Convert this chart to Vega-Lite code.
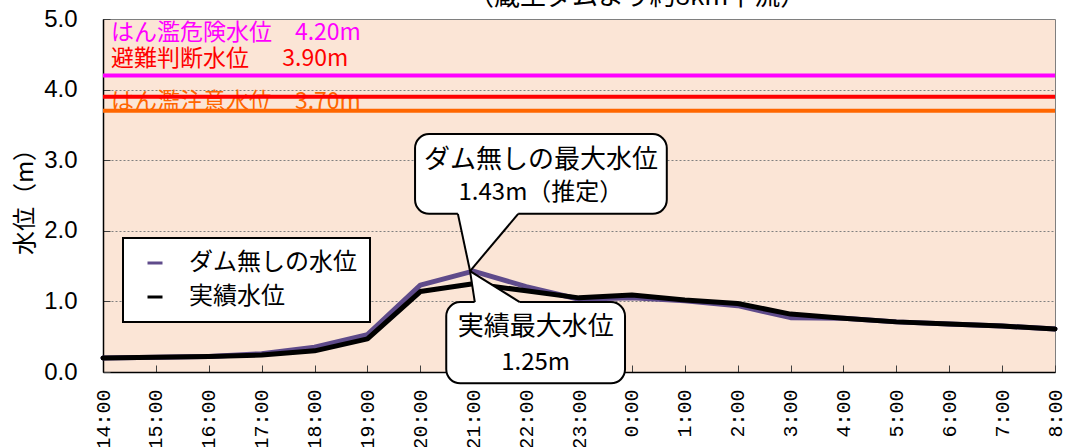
{
  "$schema": "https://vega.github.io/schema/vega-lite/v6.json",
  "width": 952,
  "height": 353,
  "autosize": {"type": "none"},
  "padding": {"left": 103, "top": 19, "right": 10, "bottom": 75},
  "background": "white",
  "config": {
    "view": {"fill": "#FBE5D6", "stroke": "#7f7f7f", "strokeWidth": 1},
    "legend": {"strokeWidth": 2},
    "axisY": {
      "labelFont": "Liberation Sans", "labelFontSize": 24, "labelColor": "black",
      "tickSize": -7, "tickColor": "#404040", "labelPadding": 33,
      "domainColor": "black", "domainWidth": 1.5,
      "grid": true, "gridColor": "#808080", "gridDash": [2, 2], "gridWidth": 1,
      "titleFont": "Noto Sans CJK JP", "titleFontSize": 24, "titleFontWeight": "normal", "titleColor": "black", "titlePadding": 6
    },
    "axisX": {
      "labelAngle": 270, "labelFont": "Liberation Mono", "labelFontSize": 20, "labelColor": "black",
      "labelPadding": 24, "tickSize": -7, "tickColor": "#404040",
      "domainColor": "black", "domainWidth": 1.5, "grid": false, "labelFlush": false, "labelOverlap": false
    }
  },
  "datasets": {
    "levels": [
      {"h": 0, "time": "14:00", "series": "ダム無しの水位", "level": 0.20},
      {"h": 1, "time": "15:00", "series": "ダム無しの水位", "level": 0.21},
      {"h": 2, "time": "16:00", "series": "ダム無しの水位", "level": 0.22},
      {"h": 3, "time": "17:00", "series": "ダム無しの水位", "level": 0.26},
      {"h": 4, "time": "18:00", "series": "ダム無しの水位", "level": 0.35},
      {"h": 5, "time": "19:00", "series": "ダム無しの水位", "level": 0.53},
      {"h": 6, "time": "20:00", "series": "ダム無しの水位", "level": 1.23},
      {"h": 7, "time": "21:00", "series": "ダム無しの水位", "level": 1.43},
      {"h": 8, "time": "22:00", "series": "ダム無しの水位", "level": 1.21},
      {"h": 9, "time": "23:00", "series": "ダム無しの水位", "level": 1.03},
      {"h": 10, "time": "0:00", "series": "ダム無しの水位", "level": 1.05},
      {"h": 11, "time": "1:00", "series": "ダム無しの水位", "level": 1.01},
      {"h": 12, "time": "2:00", "series": "ダム無しの水位", "level": 0.94},
      {"h": 13, "time": "3:00", "series": "ダム無しの水位", "level": 0.77},
      {"h": 14, "time": "4:00", "series": "ダム無しの水位", "level": 0.76},
      {"h": 15, "time": "5:00", "series": "ダム無しの水位", "level": 0.71},
      {"h": 16, "time": "6:00", "series": "ダム無しの水位", "level": 0.68},
      {"h": 17, "time": "7:00", "series": "ダム無しの水位", "level": 0.65},
      {"h": 18, "time": "8:00", "series": "ダム無しの水位", "level": 0.61},
      {"h": 0, "time": "14:00", "series": "実績水位", "level": 0.20},
      {"h": 1, "time": "15:00", "series": "実績水位", "level": 0.21},
      {"h": 2, "time": "16:00", "series": "実績水位", "level": 0.22},
      {"h": 3, "time": "17:00", "series": "実績水位", "level": 0.24},
      {"h": 4, "time": "18:00", "series": "実績水位", "level": 0.30},
      {"h": 5, "time": "19:00", "series": "実績水位", "level": 0.47},
      {"h": 6, "time": "20:00", "series": "実績水位", "level": 1.14},
      {"h": 7, "time": "21:00", "series": "実績水位", "level": 1.25},
      {"h": 8, "time": "22:00", "series": "実績水位", "level": 1.15},
      {"h": 9, "time": "23:00", "series": "実績水位", "level": 1.05},
      {"h": 10, "time": "0:00", "series": "実績水位", "level": 1.09},
      {"h": 11, "time": "1:00", "series": "実績水位", "level": 1.02},
      {"h": 12, "time": "2:00", "series": "実績水位", "level": 0.97},
      {"h": 13, "time": "3:00", "series": "実績水位", "level": 0.82},
      {"h": 14, "time": "4:00", "series": "実績水位", "level": 0.76},
      {"h": 15, "time": "5:00", "series": "実績水位", "level": 0.71},
      {"h": 16, "time": "6:00", "series": "実績水位", "level": 0.68},
      {"h": 17, "time": "7:00", "series": "実績水位", "level": 0.65},
      {"h": 18, "time": "8:00", "series": "実績水位", "level": 0.61}
    ],
    "thresholds": [
      {"name": "はん濫危険水位", "level": 4.2, "label": "はん濫危険水位\u30004.20m"},
      {"name": "避難判断水位", "level": 3.9, "label": "避難判断水位\u3000\u00a0\u00a03.90m"},
      {"name": "はん濫注意水位", "level": 3.7, "label": "はん濫注意水位\u30003.70m"}
    ],
    "tail1": [
      {"h": 6.71, "level": 2.24, "level2": 2.27},
      {"h": 6.94, "level": 1.43, "level2": 2.27},
      {"h": 7.85, "level": 2.24, "level2": 2.27}
    ],
    "tail2": [
      {"h": 6.94, "level": 1.43, "level2": 1.43},
      {"h": 7.03, "level": 1.388, "level2": 0.96},
      {"h": 7.88, "level": 0.99, "level2": 0.96}
    ]
  },
  "layer": [
    {
      "data": {"name": "thresholds"},
      "transform": [{"filter": "datum.name == 'はん濫危険水位'"}],
      "mark": {"type": "text", "align": "left", "baseline": "middle", "dy": -42, "font": "Noto Sans CJK JP", "fontSize": 23, "color": "#FF00FF"},
      "encoding": {
        "x": {"datum": 0.15, "type": "quantitative", "scale": {"domain": [0, 18], "nice": false, "zero": false},
          "axis": {"title": null, "values": [0, 1, 2, 3, 4, 5, 6, 7, 8, 9, 10, 11, 12, 13, 14, 15, 16, 17, 18], "labelExpr": "((datum.value + 14) % 24) + ':00'"}},
        "y": {"field": "level", "type": "quantitative", "scale": {"domain": [0, 5], "nice": false},
          "axis": {"title": "水位（m）", "values": [0, 1, 2, 3, 4, 5], "format": ".1f"}},
        "text": {"field": "label"}
      }
    },
    {
      "data": {"name": "thresholds"},
      "transform": [{"filter": "datum.name == '避難判断水位'"}],
      "mark": {"type": "text", "align": "left", "baseline": "middle", "dy": -38, "font": "Noto Sans CJK JP", "fontSize": 23, "color": "#FF0000"},
      "encoding": {
        "x": {"datum": 0.15, "type": "quantitative", "scale": {"domain": [0, 18], "nice": false, "zero": false}},
        "y": {"field": "level", "type": "quantitative", "scale": {"domain": [0, 5], "nice": false}},
        "text": {"field": "label"}
      }
    },
    {
      "data": {"name": "thresholds"},
      "transform": [{"filter": "datum.name == 'はん濫注意水位'"}],
      "mark": {"type": "text", "align": "left", "baseline": "middle", "dy": -9, "font": "Noto Sans CJK JP", "fontSize": 23, "color": "#FF6600"},
      "encoding": {
        "x": {"datum": 0.15, "type": "quantitative", "scale": {"domain": [0, 18], "nice": false, "zero": false}},
        "y": {"field": "level", "type": "quantitative", "scale": {"domain": [0, 5], "nice": false}},
        "text": {"field": "label"}
      }
    },
    {
      "data": {"name": "thresholds"},
      "mark": {"type": "rule", "strokeWidth": 4},
      "encoding": {
        "y": {"field": "level", "type": "quantitative", "scale": {"domain": [0, 5], "nice": false}},
        "stroke": {"field": "name", "type": "nominal", "scale": {"domain": ["はん濫危険水位", "避難判断水位", "はん濫注意水位"], "range": ["#FF00FF", "#FF0000", "#FF6600"]}, "legend": null}
      }
    },
    {
      "data": {"name": "levels"},
      "transform": [{"filter": "datum.series == 'ダム無しの水位'"}],
      "mark": {"type": "line", "strokeWidth": 5, "strokeJoin": "round", "strokeCap": "round"},
      "encoding": {
        "x": {"field": "h", "type": "quantitative", "scale": {"domain": [0, 18], "nice": false, "zero": false}},
        "y": {"field": "level", "type": "quantitative", "scale": {"domain": [0, 5], "nice": false}},
        "color": {"field": "series", "type": "nominal",
          "scale": {"domain": ["ダム無しの水位", "実績水位"], "range": ["#5F4B8B", "#000000"]},
          "legend": {"title": null, "orient": "none", "legendX": 20, "legendY": 219, "fillColor": "white", "strokeColor": "black",
            "padding": 13, "rowPadding": 10, "labelFont": "Noto Sans CJK JP", "labelFontSize": 24, "labelColor": "black",
            "symbolType": "stroke", "symbolStrokeWidth": 3, "symbolSize": 225, "labelOffset": 22, "symbolOffset": 7, "labelLimit": 300}}
      }
    },
    {
      "data": {"name": "levels"},
      "transform": [{"filter": "datum.series == '実績水位'"}],
      "mark": {"type": "line", "strokeWidth": 5, "strokeJoin": "round", "strokeCap": "round"},
      "encoding": {
        "x": {"field": "h", "type": "quantitative", "scale": {"domain": [0, 18], "nice": false, "zero": false}},
        "y": {"field": "level", "type": "quantitative", "scale": {"domain": [0, 5], "nice": false}},
        "color": {"field": "series", "type": "nominal", "scale": {"domain": ["ダム無しの水位", "実績水位"], "range": ["#5F4B8B", "#000000"]}}
      }
    },
    {
      "data": {"values": [{}]},
      "mark": {"type": "rect", "fill": "white", "stroke": "black", "strokeWidth": 2, "cornerRadius": 14},
      "encoding": {
        "x": {"datum": 5.90, "type": "quantitative", "scale": {"domain": [0, 18], "nice": false, "zero": false}},
        "x2": {"datum": 10.66},
        "y": {"datum": 3.37, "type": "quantitative", "scale": {"domain": [0, 5], "nice": false}},
        "y2": {"datum": 2.24}
      }
    },
    {
      "data": {"values": [{}]},
      "mark": {"type": "rect", "fill": "white", "stroke": "black", "strokeWidth": 2, "cornerRadius": 14},
      "encoding": {
        "x": {"datum": 6.49, "type": "quantitative", "scale": {"domain": [0, 18], "nice": false, "zero": false}},
        "x2": {"datum": 9.87},
        "y": {"datum": 0.99, "type": "quantitative", "scale": {"domain": [0, 5], "nice": false}},
        "y2": {"datum": -0.16}
      }
    },
    {
      "data": {"name": "tail1"},
      "mark": {"type": "area", "fill": "white", "strokeWidth": 0},
      "encoding": {
        "x": {"field": "h", "type": "quantitative", "scale": {"domain": [0, 18], "nice": false, "zero": false}},
        "y": {"field": "level", "type": "quantitative", "scale": {"domain": [0, 5], "nice": false}},
        "y2": {"field": "level2"}
      }
    },
    {
      "data": {"name": "tail2"},
      "mark": {"type": "area", "fill": "white", "strokeWidth": 0},
      "encoding": {
        "x": {"field": "h", "type": "quantitative", "scale": {"domain": [0, 18], "nice": false, "zero": false}},
        "y": {"field": "level", "type": "quantitative", "scale": {"domain": [0, 5], "nice": false}},
        "y2": {"field": "level2"}
      }
    },
    {
      "data": {"values": [{}]},
      "mark": {"type": "rule", "stroke": "black", "strokeWidth": 2},
      "encoding": {
        "x": {"datum": 6.94, "type": "quantitative", "scale": {"domain": [0, 18], "nice": false, "zero": false}},
        "y": {"datum": 1.43, "type": "quantitative", "scale": {"domain": [0, 5], "nice": false}},
        "x2": {"datum": 6.71},
        "y2": {"datum": 2.24}
      }
    },
    {
      "data": {"values": [{}]},
      "mark": {"type": "rule", "stroke": "black", "strokeWidth": 2},
      "encoding": {
        "x": {"datum": 6.94, "type": "quantitative", "scale": {"domain": [0, 18], "nice": false, "zero": false}},
        "y": {"datum": 1.43, "type": "quantitative", "scale": {"domain": [0, 5], "nice": false}},
        "x2": {"datum": 7.85},
        "y2": {"datum": 2.24}
      }
    },
    {
      "data": {"values": [{}]},
      "mark": {"type": "rule", "stroke": "black", "strokeWidth": 2},
      "encoding": {
        "x": {"datum": 6.94, "type": "quantitative", "scale": {"domain": [0, 18], "nice": false, "zero": false}},
        "y": {"datum": 1.43, "type": "quantitative", "scale": {"domain": [0, 5], "nice": false}},
        "x2": {"datum": 7.03},
        "y2": {"datum": 0.99}
      }
    },
    {
      "data": {"values": [{}]},
      "mark": {"type": "rule", "stroke": "black", "strokeWidth": 2},
      "encoding": {
        "x": {"datum": 6.94, "type": "quantitative", "scale": {"domain": [0, 18], "nice": false, "zero": false}},
        "y": {"datum": 1.43, "type": "quantitative", "scale": {"domain": [0, 5], "nice": false}},
        "x2": {"datum": 7.88},
        "y2": {"datum": 0.99}
      }
    },
    {
      "data": {"values": [{}]},
      "mark": {"type": "text", "align": "center", "baseline": "middle", "font": "Noto Sans CJK JP", "fontSize": 26, "color": "black"},
      "encoding": {
        "x": {"datum": 8.28, "type": "quantitative", "scale": {"domain": [0, 18], "nice": false, "zero": false}},
        "y": {"datum": 3.00, "type": "quantitative", "scale": {"domain": [0, 5], "nice": false}},
        "text": {"value": "ダム無しの最大水位"}
      }
    },
    {
      "data": {"values": [{}]},
      "mark": {"type": "text", "align": "center", "baseline": "middle", "font": "Noto Sans CJK JP", "fontSize": 24, "color": "black"},
      "encoding": {
        "x": {"datum": 8.28, "type": "quantitative", "scale": {"domain": [0, 18], "nice": false, "zero": false}},
        "y": {"datum": 2.54, "type": "quantitative", "scale": {"domain": [0, 5], "nice": false}},
        "text": {"value": "1.43m（推定）"}
      }
    },
    {
      "data": {"values": [{}]},
      "mark": {"type": "text", "align": "center", "baseline": "middle", "font": "Noto Sans CJK JP", "fontSize": 26, "color": "black"},
      "encoding": {
        "x": {"datum": 8.18, "type": "quantitative", "scale": {"domain": [0, 18], "nice": false, "zero": false}},
        "y": {"datum": 0.64, "type": "quantitative", "scale": {"domain": [0, 5], "nice": false}},
        "text": {"value": "実績最大水位"}
      }
    },
    {
      "data": {"values": [{}]},
      "mark": {"type": "text", "align": "center", "baseline": "middle", "font": "Noto Sans CJK JP", "fontSize": 24, "color": "black"},
      "encoding": {
        "x": {"datum": 8.18, "type": "quantitative", "scale": {"domain": [0, 18], "nice": false, "zero": false}},
        "y": {"datum": 0.13, "type": "quantitative", "scale": {"domain": [0, 5], "nice": false}},
        "text": {"value": "1.25m"}
      }
    },
    {
      "data": {"values": [{}]},
      "mark": {"type": "text", "align": "center", "baseline": "alphabetic", "font": "Noto Sans CJK JP", "fontSize": 26, "color": "black"},
      "encoding": {
        "x": {"datum": 10.10, "type": "quantitative", "scale": {"domain": [0, 18], "nice": false, "zero": false}},
        "y": {"datum": 5.20, "type": "quantitative", "scale": {"domain": [0, 5], "nice": false}},
        "text": {"value": "（蔵王ダムより約8km下流）"}
      }
    }
  ]
}
